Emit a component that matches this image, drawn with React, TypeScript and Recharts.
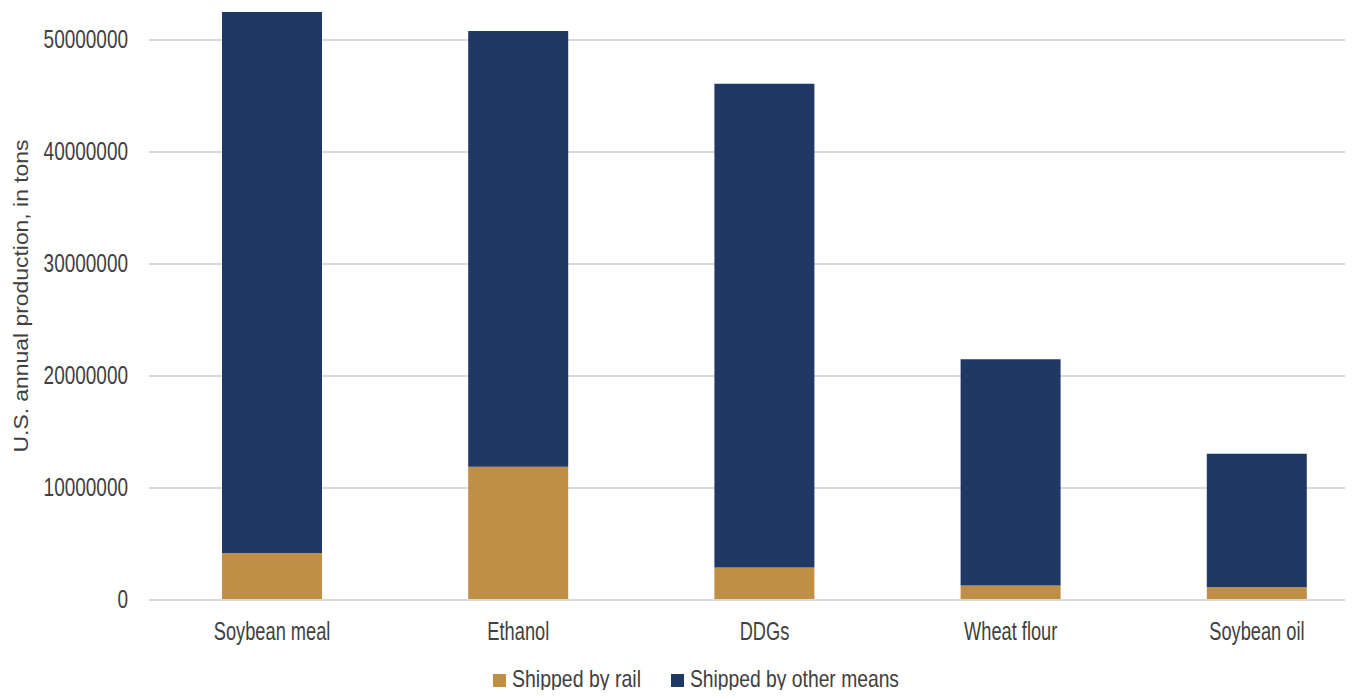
import React from "react";
import { BarChart, Bar, XAxis, YAxis, CartesianGrid, Legend } from "recharts";

// Product categories along the x axis
const categories = ["Soybean meal", "Ethanol", "DDGs", "Wheat flour", "Soybean oil"];
// Annual tonnage moved by rail
const shippedByRail = [4200000, 11900000, 2900000, 1300000, 1130000];
// Annual tonnage moved by truck, barge and other modes
const shippedByOther = [48300000, 38900000, 43200000, 20200000, 11930000];
// Y axis ticks
const yTicks = [0, 10000000, 20000000, 30000000, 40000000, 50000000];

const data = categories.map((name, i) => ({
  name,
  rail: shippedByRail[i],
  other: shippedByOther[i],
}));

const FONT = "'Liberation Sans', Arial, sans-serif";
const TEXT = "#404040";
const RAIL = "#BF8F45";
const OTHER = "#203864";
const GRID = "#D9D9D9";
// condensed look for the axis lettering
const NARROW = 0.73;

const YTick = (props: any) => {
  const { x, y, payload } = props;
  return (
    <g transform={`translate(${x},${y + 8})`}>
      <text transform={`scale(${NARROW},1)`} textAnchor="end" fill={TEXT} fontSize={26} fontFamily={FONT}>
        {payload.value}
      </text>
    </g>
  );
};

const XTick = (props: any) => {
  const { x, y, payload } = props;
  return (
    <g transform={`translate(${x},${y + 40})`}>
      <text transform={`scale(${NARROW},1)`} textAnchor="middle" fill={TEXT} fontSize={25} fontFamily={FONT}>
        {payload.value}
      </text>
    </g>
  );
};

const YLabel = () => {
  const cx = 28;
  const cy = 296;
  return (
    <text
      x={cx}
      y={cy}
      transform={`rotate(-90, ${cx}, ${cy})`}
      textAnchor="middle"
      fill={TEXT}
      fontSize={21}
      fontFamily={FONT}
      textLength={313}
      lengthAdjust="spacingAndGlyphs"
    >
      U.S. annual production, in tons
    </text>
  );
};

const legendItems = [
  { label: "Shipped by rail", color: RAIL, sq: 493, tx: 512, len: 129 },
  { label: "Shipped by other means", color: OTHER, sq: 671, tx: 690, len: 209 },
];

const LegendContent = () => (
  <svg width={1353} height={28} style={{ display: "block", overflow: "visible" }}>
    {legendItems.map((it) => (
      <g key={it.label}>
        <rect x={it.sq} y={4} width={13} height={13} fill={it.color} />
        <text
          x={it.tx}
          y={17}
          fill={TEXT}
          fontSize={24}
          fontFamily={FONT}
          textLength={it.len}
          lengthAdjust="spacingAndGlyphs"
        >
          {it.label}
        </text>
      </g>
    ))}
  </svg>
);

export default function App() {
  return (
    <div style={{ margin: -8, width: 1353, height: 698, overflow: "hidden", background: "#fff", fontFamily: FONT }}>
      <BarChart
        width={1380}
        height={698}
        data={data}
        margin={{ top: 12, right: 0, bottom: 0, left: 0 }}
        barSize={100}
      >
        <CartesianGrid vertical={false} stroke={GRID} strokeWidth={2} horizontalValues={yTicks} />
        <XAxis
          dataKey="name"
          axisLine={{ stroke: GRID, strokeWidth: 2 }}
          tickLine={false}
          tickSize={0}
          tickMargin={0}
          height={70}
          tick={<XTick />}
          interval={0}
        />
        <YAxis
          width={149}
          domain={[0, 52500000]}
          ticks={yTicks}
          allowDataOverflow
          axisLine={false}
          tickLine={false}
          tickSize={0}
          tickMargin={21}
          tick={<YTick />}
          label={<YLabel />}
        />
        <Legend
          verticalAlign="bottom"
          height={28}
          content={<LegendContent />}
          wrapperStyle={{ left: 0, bottom: 0, width: 1353, height: 28 }}
        />
        <Bar dataKey="rail" name="Shipped by rail" stackId="a" fill={RAIL} isAnimationActive={false} />
        <Bar dataKey="other" name="Shipped by other means" stackId="a" fill={OTHER} isAnimationActive={false} />
      </BarChart>
    </div>
  );
}
